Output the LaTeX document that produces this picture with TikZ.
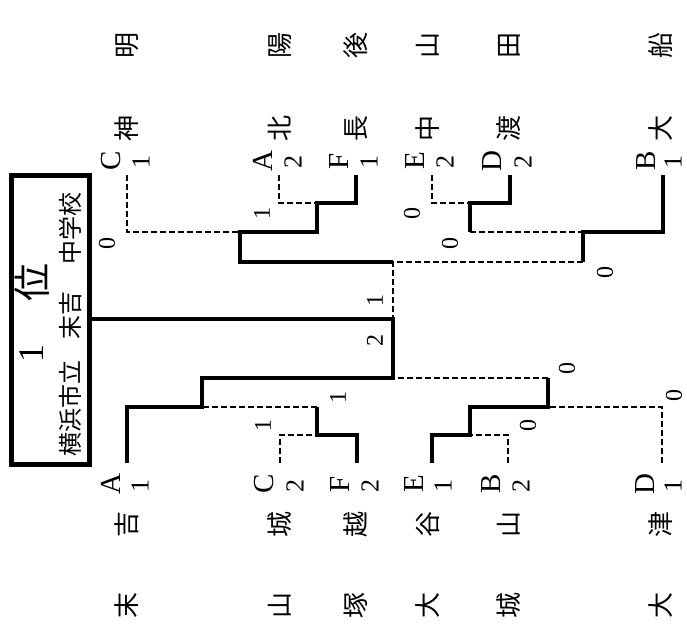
\documentclass[tikz,border=0pt]{standalone}
\usepackage{fontspec}
\setmainfont{Liberation Serif}
\newfontfamily\cjk{Noto Sans CJK JP}
\usetikzlibrary{positioning}

\begin{document}
\begin{tikzpicture}[x=1pt,y=-1pt,line join=miter]
  \tikzstyle{win}=[line width=4.5pt]
  \tikzstyle{lose}=[line width=2pt,dash pattern=on 6pt off 3pt]
  \tikzstyle{kanji}=[rotate=90,inner sep=0pt,font=\cjk\fontsize{26}{26}\selectfont]
  \tikzstyle{grp}=[rotate=90,inner sep=0pt,font=\fontsize{29}{29}\selectfont]
  \tikzstyle{rk}=[rotate=90,inner sep=0pt,font=\fontsize{26}{26}\selectfont]
  \tikzstyle{score}=[rotate=90,inner sep=0pt,font=\fontsize{24}{24}\selectfont]

  \useasboundingbox (0,0) rectangle (687,641);

  % winner box
  \node[draw,line width=5pt,minimum width=78pt,minimum height=289pt,inner sep=0pt] (rankbox) at (50,320) {};
  \node[rotate=90,inner sep=0pt,font=\fontsize{36}{36}\selectfont] (rank) at (32,353) {1};
  \node[rotate=90,inner sep=0pt,font=\cjk\fontsize{38}{38}\selectfont] (rankunit) at (32,282) {位};
  \node[kanji,font=\cjk\fontsize{24}{24}\selectfont] (city) at (70,408) {横浜市立};
  \node[kanji,font=\cjk\fontsize{24}{24}\selectfont] (champname) at (70,315) {末吉};
  \node[kanji,font=\cjk\fontsize{24}{24}\selectfont] (school) at (70,228) {中学校};

  % top teams
  \node[grp] (gC1) at (111,161) {C};  \node[rk] (nC1) at (141,162) {1};
  \node[kanji] (kC1a) at (127,128) {神};  \node[kanji] (kC1b) at (127,45) {明};
  \node[grp] (gA2) at (263,161) {A};  \node[rk] (nA2) at (293,162) {2};
  \node[kanji] (kA2a) at (280,128) {北};  \node[kanji] (kA2b) at (280,45) {陽};
  \node[grp] (gF1) at (339,161) {F};  \node[rk] (nF1) at (369,162) {1};
  \node[kanji] (kF1a) at (356,128) {長};  \node[kanji] (kF1b) at (356,45) {後};
  \node[grp] (gE2) at (415,161) {E};  \node[rk] (nE2) at (445,162) {2};
  \node[kanji] (kE2a) at (428,128) {中};  \node[kanji] (kE2b) at (428,45) {山};
  \node[grp] (gD2) at (492,161) {D};  \node[rk] (nD2) at (523,162) {2};
  \node[kanji] (kD2a) at (509,128) {渡};  \node[kanji] (kD2b) at (509,45) {田};
  \node[grp] (gB1) at (646,161) {B};  \node[rk] (nB1) at (673,162) {1};
  \node[kanji] (kB1a) at (661,128) {大};  \node[kanji] (kB1b) at (661,45) {船};

  % bottom teams
  \node[grp] (gA1) at (111,484) {A};  \node[rk] (nA1) at (140,486) {1};
  \node[kanji] (kA1a) at (127,524) {吉};  \node[kanji] (kA1b) at (127,605) {末};
  \node[grp] (gC2) at (264,484) {C};  \node[rk] (nC2) at (295,486) {2};
  \node[kanji] (kC2a) at (280,524) {城};  \node[kanji] (kC2b) at (280,605) {山};
  \node[grp] (gF2) at (340,484) {F};  \node[rk] (nF2) at (370,486) {2};
  \node[kanji] (kF2a) at (356,524) {越};  \node[kanji] (kF2b) at (356,605) {塚};
  \node[grp] (gE1) at (414,484) {E};  \node[rk] (nE1) at (443,486) {1};
  \node[kanji] (kE1a) at (428,524) {谷};  \node[kanji] (kE1b) at (428,605) {大};
  \node[grp] (gB2) at (491,484) {B};  \node[rk] (nB2) at (521,486) {2};
  \node[kanji] (kB2a) at (509,524) {山};  \node[kanji] (kB2b) at (509,605) {城};
  \node[grp] (gD1) at (645,484) {D};  \node[rk] (nD1) at (673,486) {1};
  \node[kanji] (kD1a) at (661,524) {津};  \node[kanji] (kD1b) at (661,605) {大};

  % bracket points
  \coordinate (tC) at (127,175);  \coordinate (tA) at (279,175);  \coordinate (tF) at (356,175);
  \coordinate (tE) at (432,175);  \coordinate (tD) at (510,175);  \coordinate (tB) at (663,175);
  \coordinate (bA) at (127,463);  \coordinate (bC) at (280,463);  \coordinate (bF) at (357,463);
  \coordinate (bE) at (432,463);  \coordinate (bB) at (508,463);  \coordinate (bD) at (662,463);
  \coordinate (qAF) at (317,203); \coordinate (rAF) at (317,232);
  \coordinate (qED) at (470,203); \coordinate (rED) at (470,232);
  \coordinate (sC) at (240,232);  \coordinate (sCd) at (240,262);
  \coordinate (sDB) at (583,232); \coordinate (sDBd) at (583,262);
  \coordinate (qCF) at (317,435); \coordinate (rCF) at (317,407);
  \coordinate (qEB) at (470,435); \coordinate (rEB) at (470,407);
  \coordinate (sA) at (202,407);  \coordinate (sAu) at (202,378);
  \coordinate (sED) at (548,407); \coordinate (sEDu) at (548,378);
  \coordinate (fT) at (393,262);  \coordinate (fM) at (393,319);  \coordinate (fB) at (393,378);

  % top half
  \draw[lose] (tA) |- (qAF);
  \draw[lose] (tC) |- (sC);
  \draw[win] (tF) |- (qAF) -- (rAF) -- (sC) -- (sCd) -- (fT);
  \draw[lose] (tE) |- (qED);
  \draw[win] (tD) |- (qED) -- (rED);
  \draw[lose] (rED) -- (sDB);
  \draw[win] (tB) |- (sDB) -- (sDBd);
  \draw[lose] (sDBd) -- (fT) -- (fM);

  % bottom half
  \draw[lose] (bC) |- (qCF);
  \draw[win] (bF) |- (qCF) -- (rCF);
  \draw[lose] (rCF) -- (sA);
  \draw[lose] (bB) |- (qEB);
  \draw[lose] (bD) |- (sED);
  \draw[win] (bE) |- (qEB) -- (rEB) -- (sED) -- (sEDu);
  \draw[lose] (sEDu) -- (fB);
  \draw[win] (bA) |- (sA) -- (sAu) -- (fB) -- (fM) -- (rankbox.east |- fM);

  % scores
  \node[score] (s1) at (107,243) {0};
  \node[score] (s2) at (262,213) {1};
  \node[score] (s3) at (412,213) {0};
  \node[score] (s4) at (450,243) {0};
  \node[score] (s5) at (605,272) {0};
  \node[score] (s6) at (375,300) {1};
  \node[score] (s7) at (375,340) {2};
  \node[score] (s8) at (338,397) {1};
  \node[score] (s9) at (263,425) {1};
  \node[score] (s10) at (567,368) {0};
  \node[score] (s11) at (528,425) {0};
  \node[score] (s12) at (674,395) {0};
\end{tikzpicture}
\end{document}
